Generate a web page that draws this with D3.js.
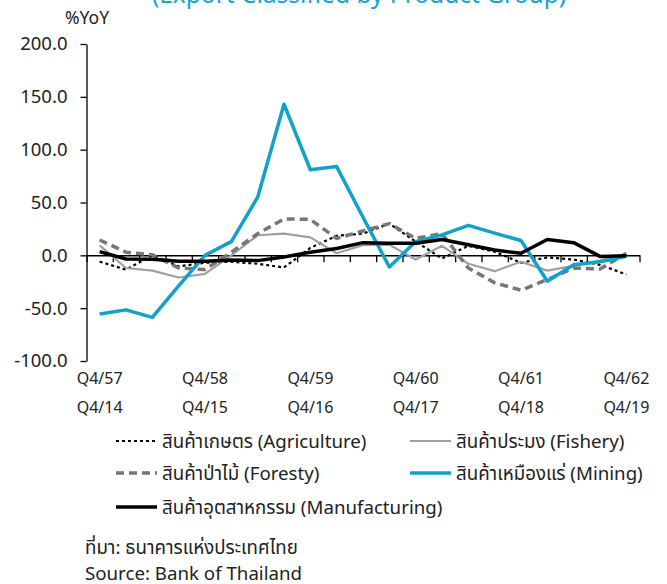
<!DOCTYPE html>
<html>
<head>
<meta charset="utf-8">
<script src="https://cdn.jsdelivr.net/npm/d3@7"></script>
<style>
  body { margin: 0; background: #fff; }
  svg text { font-family: "Noto Sans", "Noto Sans Thai", Tahoma, "DejaVu Sans", sans-serif; fill: #222; }
</style>
</head>
<body>
<div id="chart"></div>
<script>
// quarters, Thai year / Western year
var quarters = ["Q4/57","Q1/58","Q2/58","Q3/58","Q4/58","Q1/59","Q2/59","Q3/59","Q4/59",
                "Q1/60","Q2/60","Q3/60","Q4/60","Q1/61","Q2/61","Q3/61","Q4/61",
                "Q1/62","Q2/62","Q3/62","Q4/62"];
var labelsThai = ["Q4/57","Q4/58","Q4/59","Q4/60","Q4/61","Q4/62"];
var labelsCE   = ["Q4/14","Q4/15","Q4/16","Q4/17","Q4/18","Q4/19"];
var yTicks = [-100, -50, 0, 50, 100, 150, 200];

var agriculture   = [-6, -13.5, 0, -10.5, -7, -6, -8, -11.5, 7, 18.5, 20.5, 30, 13, -3, 9, 3.5, -7, -2, -4, -9, -18];
var fishery       = [9.5, -12, -14.5, -21, -17.5, 0, 19, 20.5, 17, 2, 9.7, 10, -4, 9, -8, -15, -6, -14.5, -10, -5, 1];
var foresty       = [14.5, 3, 0.5, -12, -13.5, 3, 20.5, 34.5, 34, 16, 23, 30, 16, 20.5, -12, -26, -33, -23, -12, -13, 2];
var mining        = [-55.6, -51.6, -58.7, -29, 0, 13, 55, 143, 81, 84, 36, -11, 13, 19.3, 28.3, 21, 14, -24.5, -9, -6, -1];
var manufacturing = [3.5, -3.5, -3.7, -5.5, -5.5, -4.5, -5, -1.5, 3, 6.5, 12, 11.5, 11.5, 15, 10, 5, 2, 15, 12, -1, -0.5];

var series = [
  {name: "สินค้าเกษตร (Agriculture)", values: agriculture, color: "#000", width: 2.2, dash: "3,3"},
  {name: "สินค้าประมง (Fishery)", values: fishery, color: "#a0a0a0", width: 2.2, dash: null},
  {name: "สินค้าป่าไม้ (Foresty)", values: foresty, color: "#767676", width: 3.5, dash: "8,5"},
  {name: "สินค้าเหมืองแร่ (Mining)", values: mining, color: "#10a2c8", width: 3.5, dash: null},
  {name: "สินค้าอุตสาหกรรม (Manufacturing)", values: manufacturing, color: "#000", width: 3.5, dash: null}
];

var W = 667, H = 584;
var svg = d3.select("#chart").append("svg")
    .attr("width", W).attr("height", H);

// index scale: band boundaries at integers, points at i+0.5
var x = d3.scaleLinear().domain([0, quarters.length]).range([86.5, 639.5]);
var y = d3.scaleLinear().domain([-100, 200]).range([361, 44]);

// title (cut off at top)
svg.append("text")
    .attr("x", 359).attr("y", 3)
    .attr("text-anchor", "middle")
    .style("font-size", "24.5px")
    .style("fill", "#14a6cf")
    .text("(Export Classified by Product Group)");

svg.append("text")
    .attr("x", 65).attr("y", 24)
    .style("font-size", "17.5px")
    .text("%YoY");

// y axis
var yAxis = svg.append("g")
    .attr("transform", "translate(" + x(0) + ",0)")
    .call(d3.axisLeft(y).tickValues(yTicks).tickSize(6).tickSizeOuter(0)
          .tickFormat(function(d) { return d.toFixed(1); }));
yAxis.select(".domain").attr("stroke", "#000").attr("stroke-width", 1.3);
yAxis.selectAll(".tick line").attr("stroke", "#000").attr("stroke-width", 1.3);
yAxis.selectAll(".tick text").attr("x", -19).style("font-size", "18.5px").attr("fill", "#222");

// x axis along zero
var xAxis = svg.append("g")
    .attr("transform", "translate(0," + y(0) + ")")
    .call(d3.axisBottom(x).tickValues(d3.range(quarters.length + 1)).tickSize(7).tickSizeOuter(0)
          .tickFormat(""));
xAxis.select(".domain").attr("stroke", "#000").attr("stroke-width", 1.5);
xAxis.selectAll(".tick line").attr("stroke", "#000").attr("stroke-width", 1.3);

// category labels, two rows
var labelIdx = quarters.map(function(q, i) { return i; }).filter(function(i) { return i % 4 === 0; });
svg.append("g").selectAll("text.th")
    .data(labelIdx).enter().append("text")
    .attr("x", function(i) { return x(i + 0.5); })
    .attr("y", 384)
    .attr("text-anchor", "middle")
    .style("font-size", "16px")
    .text(function(i, k) { return labelsThai[k]; });
svg.append("g").selectAll("text.ce")
    .data(labelIdx).enter().append("text")
    .attr("x", function(i) { return x(i + 0.5); })
    .attr("y", 413)
    .attr("text-anchor", "middle")
    .style("font-size", "16px")
    .text(function(i, k) { return labelsCE[k]; });

// lines
var line = d3.line()
    .x(function(d, i) { return x(i + 0.5); })
    .y(function(d) { return y(d); });

svg.append("g").selectAll("path")
    .data(series).enter().append("path")
    .attr("d", function(s) { return line(s.values); })
    .attr("fill", "none")
    .attr("stroke", function(s) { return s.color; })
    .attr("stroke-width", function(s) { return s.width; })
    .attr("stroke-dasharray", function(s) { return s.dash; })
    .attr("stroke-linejoin", "round");

// legend
var legendPos = [[116, 441], [410, 441], [116, 473], [410, 473], [116, 507]];
var lg = svg.append("g").selectAll("g")
    .data(series).enter().append("g")
    .attr("transform", function(s, i) { return "translate(" + legendPos[i][0] + "," + legendPos[i][1] + ")"; });
lg.append("line")
    .attr("x1", 0).attr("x2", 41)
    .attr("stroke", function(s) { return s.color; })
    .attr("stroke-width", function(s) { return s.width; })
    .attr("stroke-dasharray", function(s) { return s.dash; });
lg.append("text")
    .attr("x", 46).attr("y", 6.5)
    .style("font-size", "18.7px")
    .text(function(s) { return s.name; });

svg.append("text")
    .attr("x", 85).attr("y", 554)
    .style("font-size", "18.7px")
    .text("ที่มา: ธนาคารแห่งประเทศไทย");
svg.append("text")
    .attr("x", 85).attr("y", 580)
    .style("font-size", "18.7px")
    .text("Source: Bank of Thailand");
</script>
</body>
</html>
